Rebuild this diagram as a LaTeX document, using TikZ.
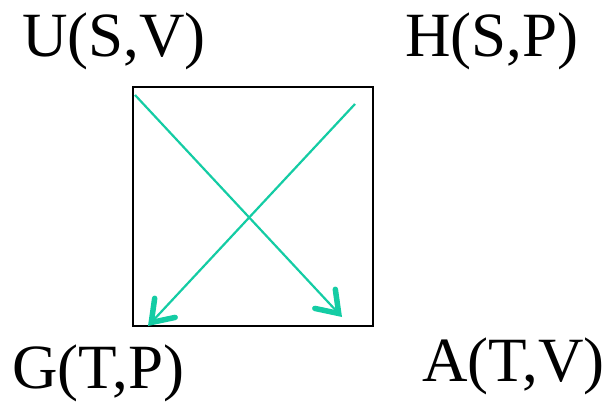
\documentclass[tikz,border=0pt]{standalone}
\usepackage{fontspec}
\setmainfont{Liberation Serif}
\usepackage{tikz}
\usetikzlibrary{arrows.meta}
\definecolor{arrowteal}{RGB}{20,204,164}

\begin{document}
\begin{tikzpicture}[x=1pt, y=-1pt, every node/.style={font=\fontsize{63}{63}\selectfont, inner sep=0pt, anchor=base west},
  flow/.style={arrowteal, line width=2.2pt, -{Straight Barb[length=20pt,width=28pt,line width=5.5pt,line cap=round]}}]
  \useasboundingbox (0,0) rectangle (608,404);
  % Square
  \draw[line width=2pt] (133,87) rectangle (373,326);

  % Potentials
  \node (U) at (22,57) {U(S,V)};
  \node (H) at (405,57) {H(S,P)};
  \node (G) at (12,388) {G(T,P)};
  \node (A) at (422,381) {A(T,V)};

  % Arrows
  \coordinate (u0) at (135,95);  \coordinate (a0) at (342,317);
  \coordinate (h0) at (355,104); \coordinate (g0) at (148,326);
  \draw[flow] (u0) -- (a0);
  \draw[flow] (h0) -- (g0);
\end{tikzpicture}
\end{document}
